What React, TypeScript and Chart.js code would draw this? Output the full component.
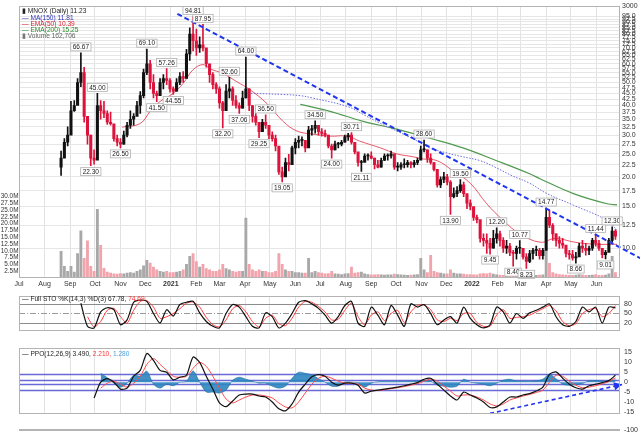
import React, { useEffect, useRef } from "react";
import { Chart, registerables } from "chart.js";

Chart.register(...registerables);

const FONT = "'Liberation Sans', Arial, sans-serif";

// ---------- time axis: days since 2020-07-01 ----------
const monthTickDays = [0, 31, 62, 92, 123, 153, 184, 215, 243, 274, 304, 335, 365, 396, 427, 457, 488, 518, 549, 580, 608, 639, 669, 700];
const monthTickLabels = ["Jul", "Aug", "Sep", "Oct", "Nov", "Dec", "2021", "Feb", "Mar", "Apr", "May", "Jun", "Jul", "Aug", "Sep", "Oct", "Nov", "Dec", "2022", "Feb", "Mar", "Apr", "May", "Jun"];
const yearTickLabels = ["2021", "2022"];
const X_MIN_DAY = 0;
const X_MAX_DAY = 728.5;

// ---------- price (sampled every 4 calendar days from 2020-08-21) ----------
const PRICE_START_DAY = 51;
const PRICE_STEP_DAYS = 4;
const firstOpen = 22;
const priceHigh = [
  25.7, 29, 32.5, 41.6, 42, 52, 66.67, 58, 34, 30,
  26, 45, 42, 41.6, 38, 37.5, 32.5, 30, 29, 31.2,
  34, 38, 37, 41.6, 45.8, 57, 69.1, 62, 54, 46,
  52, 54, 57.26, 52, 48, 52, 55, 55.6, 69, 85,
  94.81, 84, 78, 87.95, 69, 59, 55, 50, 48, 41.6,
  49, 52.6, 48, 44, 41, 46, 64, 47, 40, 37,
  34, 35, 36.5, 33, 31, 30, 26, 22, 24, 24.9,
  27, 29, 29.7, 29.5, 28.5, 32.7, 33, 34.5, 33, 32,
  31.5, 30, 27.5, 28.3, 28, 28.5, 30, 30.5, 30.71, 28,
  24.5, 23.5, 25, 25, 25.5, 24, 23.5, 24, 25, 25,
  25.7, 24, 23, 23, 23.8, 23.5, 23.2, 23.5, 24, 27,
  28.6, 26, 25, 23, 20.6, 20, 20.9, 20.5, 19.3, 18,
  18.2, 19.5, 19, 16.5, 16, 14.7, 13.8, 13.1, 11.5, 11.5,
  11, 11.9, 12.2, 11.8, 11.1, 10.8, 10.5, 9.8, 10.2, 10.77,
  10, 9.5, 9.8, 10, 10.2, 10, 10, 14.77, 14.5, 12.7,
  11.5, 11.2, 11, 10.2, 9.8, 9.8, 9.6, 10.5, 10.8, 10.5,
  10.2, 11, 11.44, 10.8, 10, 9.8, 11, 12.3, 12,
];
const priceLow = [
  20.3, 26.5, 27, 32.5, 37.8, 40.5, 48, 34, 27.5, 22.3,
  22.6, 31, 35, 35.5, 33.3, 33, 28.3, 27, 26.5, 27.5,
  29.5, 32, 33, 36.6, 37, 43, 54, 47, 43, 41.5,
  45, 47, 49, 45.5, 44.55, 46, 49, 50, 55, 62,
  68, 65, 67, 68, 58, 50, 47, 45, 39, 32.2,
  38, 43, 40, 39, 37.06, 39, 43, 38, 34, 33,
  29.25, 31, 32, 29, 28.3, 25.7, 20.5, 19.05, 20.5, 21.2,
  23.5, 25, 26.5, 27, 25.5, 29.7, 30, 30.6, 30, 29.7,
  29.5, 26.5, 24, 26, 26.5, 27, 28, 28.5, 27.5, 25,
  22.2, 21.11, 23.4, 23.5, 23.8, 21.6, 21.8, 22, 23.4, 23.5,
  24, 21.5, 21.2, 21.5, 21.8, 22, 21.8, 22, 22.5, 24,
  25.5, 23, 22.6, 21.2, 18.1, 18, 18.9, 18.5, 13.9, 16.3,
  16.5, 17.2, 16.5, 14.7, 14.5, 13.1, 12.8, 10.6, 10.2, 9.5,
  9.45, 10, 10.5, 10.2, 9.6, 9.5, 9.3, 8.4, 9, 9.5,
  9, 8.23, 8.7, 9, 9.3, 9, 9, 10, 12.2, 10.8,
  10.2, 10, 10, 9.2, 9, 8.9, 8.66, 9.3, 9.6, 9.35,
  9.4, 9.8, 10.2, 9.8, 9.1, 9.01, 9.8, 10.6, 10.9,
];
const priceClose = [
  24, 28, 30, 38, 40, 50, 55, 36, 30, 24,
  23.5, 40, 38, 37, 34, 33.5, 29, 28, 27.5, 30,
  33, 35, 36, 40, 44, 55, 60, 50, 45, 44,
  50, 52, 51, 47, 46, 50, 53, 52, 66, 80,
  75, 70, 72, 70, 60, 54, 49, 47, 41, 38,
  46, 47, 42, 40, 39, 43, 47, 40, 36, 34,
  31, 34, 33, 30, 29, 27, 21, 20, 23, 22.5,
  26.5, 28, 28.5, 28.5, 26.5, 31.5, 32, 33, 31, 30.5,
  30, 27, 26, 27.5, 27.5, 28, 29.5, 30, 28, 25.5,
  23, 23, 24.5, 24.5, 24, 22.5, 22, 23.5, 24.5, 24.5,
  25, 22, 22, 22.5, 22.5, 23, 22.5, 23, 23.5, 26,
  26, 24, 23, 21.5, 18.5, 19.5, 20, 19, 16.5, 17,
  17.5, 18.5, 17, 15.5, 15, 13.5, 13.2, 11, 10.8, 10.5,
  10, 11, 11.5, 10.8, 10, 10.2, 9.6, 9.5, 10, 10,
  9.2, 8.8, 9.5, 9.8, 9.8, 9.3, 9.8, 13.5, 12.5, 11.5,
  10.8, 10.5, 10.3, 9.5, 9.4, 9.1, 9.2, 10.2, 10, 9.8,
  10, 10.8, 10.5, 10, 9.4, 9.6, 10.8, 11.8, 11.23,
];
const volumeM = [
  9.8, 4.3, 2.5, 4.3, 2.2, 9.0, 17.4, 7.2, 13.7, 4.3,
  2.5, 25.3, 12.0, 3.6, 2.2, 1.8, 1.5, 1.4, 1.6, 1.5,
  1.8, 2.0, 1.8, 2.5, 3.0, 4.5, 6.5, 5.5, 4.0, 3.0,
  2.5, 2.2, 2.5, 2.0, 2.0, 2.2, 2.5, 3.0, 5.0, 8.0,
  9.0, 6.0, 4.0, 5.0, 3.5, 3.0, 2.5, 2.5, 3.0, 5.0,
  3.5, 3.0, 2.5, 2.2, 2.5, 2.5, 22.0, 5.0, 3.0, 2.5,
  3.0, 2.5, 2.5, 2.0, 2.0, 2.5, 9.0, 5.0, 3.0, 2.5,
  2.5, 2.0, 2.0, 1.8, 1.8, 7.2, 2.0, 2.5, 2.0, 1.8,
  1.5, 1.6, 2.5, 1.5, 1.4, 1.3, 1.5, 1.6, 4.0, 1.8,
  2.0, 2.2, 1.5, 1.3, 1.2, 1.2, 1.3, 1.2, 1.1, 1.2,
  1.2, 1.4, 1.3, 1.2, 1.1, 1.0, 1.1, 1.2, 1.3, 7.2,
  3.0, 2.0, 8.3, 2.5, 2.0, 1.8, 1.5, 1.5, 3.0, 1.8,
  1.5, 1.5, 1.4, 1.3, 1.3, 1.2, 1.2, 1.5, 1.6, 1.5,
  1.8, 1.4, 1.2, 1.1, 1.0, 1.0, 1.1, 1.5, 1.2, 1.1,
  1.0, 1.4, 1.2, 1.0, 1.0, 1.1, 1.2, 10.0, 5.4, 2.0,
  1.5, 1.3, 1.2, 1.1, 1.0, 1.0, 1.1, 1.3, 1.2, 1.0,
  1.0, 1.1, 1.3, 1.0, 1.0, 1.1, 1.5, 8.0, 2.0,
];
const highLabelIdx = [6, 11, 26, 32, 40, 43, 51, 56, 62, 77, 88, 110, 121, 132, 139, 147, 162, 167];
const lowLabelIdx = [9, 18, 29, 34, 49, 54, 60, 67, 82, 91, 118, 130, 137, 141, 156, 165];

// moving averages
const ema50Days = [125, 147, 159, 171, 187, 199, 211, 223, 232, 247, 264, 280, 301, 320, 337, 356, 377, 398, 413, 438, 458, 478, 490, 507, 526, 547, 567, 587, 607, 632, 650, 674, 698, 725];
const ema50Vals = [32.4, 33.6, 37.8, 41.6, 45, 49.6, 56.6, 59.5, 57, 54.6, 50.4, 46.6, 40.6, 34.3, 31.2, 30.3, 29.7, 29.7, 28.3, 26.5, 25, 24.3, 23.8, 23.4, 21.2, 18.8, 15.4, 13.1, 11.5, 10.6, 11.0, 10.6, 10.4, 10.39];
const ma150Days = [270, 280, 320, 341, 356, 398, 417, 438, 458, 478, 498, 519, 538, 559, 579, 598, 619, 640, 672, 713, 725];
const ma150Vals = [45, 45, 44.5, 44, 43, 39.6, 36.7, 33.6, 31.2, 28.9, 26.5, 25.2, 24.3, 23.4, 21.8, 20.2, 18.8, 17, 15.2, 13.1, 11.9];
const ema200Days = [341, 377, 417, 458, 498, 538, 579, 619, 632, 672, 713, 725];
const ema200Vals = [40.4, 37.8, 34.3, 31.8, 29.1, 26.5, 23.4, 20.6, 19.6, 17, 15.4, 15.25];
const trendDays = [192, 753];
const trendPrices = [97.4, 9.08];

const priceTicks = [10, 12.5, 15, 17.5, 20, 22.5, 25, 27.5, 30, 32.5, 35, 37.5, 40, 42.5, 45, 47.5, 50, 52.5, 55, 57.5, 60, 62.5, 65, 67.5, 70, 72.5, 75, 77.5, 80, 82.5, 85, 87.5, 90, 92.5, 95];
const topPriceLabel = "3000";
const PRICE_AXIS_MIN = 7.49;
const PRICE_AXIS_MAX = 104.9;
const volumeTicksM = [2.5, 5, 7.5, 10, 12.5, 15, 17.5, 20, 22.5, 25, 27.5, 30];
const VOLUME_AXIS_MAX_M = 100;

// ---------- oscillators (sampled every 8 days from day 75) ----------
const OSC_START_DAY = 75;
const OSC_STEP_DAYS = 8;
const stoK = [
  82, 10, 5, 55, 68, 62, 15, 30, 85, 92,
  88, 50, 20, 62, 42, 78, 85, 88, 52, 25,
  10, 5, 50, 78, 70, 40, 10, 5, 52, 40,
  5, 20, 50, 85, 90, 80, 66, 45, 20, 40,
  75, 88, 20, 10, 70, 45, 15, 75, 45, 10,
  80, 70, 78, 50, 15, 30, 40, 20, 70, 35,
  15, 5, 15, 70, 55, 20, 50, 35, 52, 60,
  70, 80, 40, 15, 10, 25, 70, 55, 70, 20,
  70, 67.78,
];
const stoD = [
  null, 40, 8, 25, 60, 66, 40, 20, 60, 88,
  90, 70, 35, 40, 50, 65, 82, 86, 70, 38,
  15, 8, 30, 65, 75, 55, 25, 8, 35, 45,
  18, 12, 35, 70, 88, 85, 72, 55, 30, 32,
  60, 82, 40, 15, 45, 55, 28, 50, 60, 22,
  55, 75, 76, 62, 30, 25, 35, 28, 50, 50,
  22, 10, 10, 45, 62, 35, 38, 40, 45, 55,
  65, 75, 58, 25, 12, 18, 50, 62, 65, 40,
  50, 74.69,
];
const stoTicks = [20, 50, 80];
const ppoLine = [
  null, null, -8, 0, 1.8, 0, -3.5, -3, 3, 6,
  14.5, 11, 6, 5, 1.2, 2.5, 3.5, 12.7, 10, 3,
  -3.5, -10.5, -12.4, -9.5, -6.5, -6, -6, -7, -7.5, -10,
  -13.5, -14.5, -11, -5, -1, 2.7, 3.8, 3, 0, -1.5,
  -0.5, -0.5, -1.5, -5.5, -4.5, -4, -3.5, -3, -2.5, -1.8,
  -1, -0.2, 1.5, 2, -1, -4, -7, -9, -5, -6.5,
  -8, -10, -12.8, -12.5, -10, -7.5, -7.5, -6.5, -5.8, -4.5,
  -2.5, 4, 5.2, 2, -1, -2.8, -3.5, -1.8, -1, -0.2,
  0.8, 3.49,
];
const ppoSignal = [
  null, null, null, -3, -0.5, 0.5, -1, -2.5, -0.5, 3,
  9, 12, 9, 6, 3, 2.5, 3, 7, 10, 8,
  3, -3, -8.5, -10.5, -9, -7.5, -6.5, -6.5, -7, -8,
  -10.5, -12.5, -13, -10, -5.5, -1, 2, 3, 2, 0.5,
  -0.5, -0.5, -1, -3, -4, -4.2, -3.8, -3.3, -2.8, -2.2,
  -1.5, -0.8, 0.5, 1.5, 0.5, -2, -4.5, -7, -6.5, -6.5,
  -7.5, -9, -11, -12, -11, -9, -8, -7, -6.2, -5.2,
  -4, 0, 3.5, 3, 0.5, -1.5, -2.8, -2.5, -1.8, -0.8,
  0.3, 2.21,
];
const ppoHist = [
  null, null, null, 4.5, 2.3, -0.5, -2.5, -0.5, 3.5, 3,
  5.5, -1, -3, -1, -1.8, 0, 0.5, 5.7, 0, -5,
  -5, -5.5, -4, 1, 2.5, 1.5, 0.5, -0.5, -0.5, -2,
  -3, -2, 2, 5, 4.5, 3.7, 1.8, 0, -2, -2,
  0, 0, -0.5, -2.5, -0.5, 0.2, 0.3, 0.3, 0.3, 0.4,
  0.5, 0.6, 1, 0.5, -1.5, -2, -2.5, -2, 1.5, 0,
  -0.5, -1, -1.8, -0.5, 1, 1.5, 0.5, 0.5, 0.4, 0.7,
  1.5, 4, 1.7, -1, -1.5, -1.3, -0.7, 0.7, 0.8, 0.6,
  0.5, 1.28,
];
const ppoTicks = [-15, -10, -5, 0, 5, 10, 15];
const ppoBandLevels = [4, 1, -1, -4];
const ppoTrendDays = [571, 731];
const ppoTrendVals = [-15.8, -1.2];
const kstTicks = [-100];

// ---------- helpers ----------
const priceDays = priceHigh.map((_, i) => PRICE_START_DAY + i * PRICE_STEP_DAYS);
const oscDays = stoK.map((_, j) => OSC_START_DAY + j * OSC_STEP_DAYS);
const pts = (xs: number[], ys: (number | null)[]) => xs.map((x, i) => ({ x, y: ys[i] }));

function xScale(showLabels: boolean) {
  return {
    type: "linear",
    min: X_MIN_DAY,
    max: X_MAX_DAY,
    offset: false,
    afterBuildTicks: (s: any) => {
      s.ticks = monthTickDays.map((v) => ({ value: v }));
    },
    afterFit: (s: any) => {
      s.height = showLabels ? 12 : 0;
    },
    grid: { color: "#e2e2e2", drawTicks: false, offset: false },
    border: { display: false },
    ticks: {
      display: showLabels,
      autoSkip: false,
      maxRotation: 0,
      padding: 2,
      color: "#333",
      font: (ctx: any) => {
        const k = ctx.tick ? monthTickDays.indexOf(ctx.tick.value) : -1;
        const bold = k >= 0 && yearTickLabels.includes(monthTickLabels[k]);
        return { family: FONT, size: 7, weight: bold ? "bold" : "normal" };
      },
      callback: (v: any) => {
        const k = monthTickDays.indexOf(v);
        return k >= 0 ? monthTickLabels[k] : "";
      },
    },
  };
}

function rightAxis(min: number, max: number, ticks: number[], fmt: (v: number) => string) {
  return {
    type: "linear",
    position: "right",
    min,
    max,
    afterBuildTicks: (s: any) => {
      s.ticks = ticks.map((v) => ({ value: v }));
    },
    afterFit: (s: any) => {
      s.width = 20;
    },
    grid: { display: false, drawTicks: false },
    border: { display: false },
    ticks: { autoSkip: false, padding: 4, color: "#333", font: { family: FONT, size: 7 }, callback: (v: any) => fmt(Number(v)) },
  };
}

const framePlugin = {
  id: "panelFrame",
  afterDraw(chart: any) {
    const { ctx, chartArea: a } = chart;
    ctx.save();
    ctx.strokeStyle = "#b4b4b4";
    ctx.lineWidth = 1;
    ctx.strokeRect(Math.round(a.left) + 0.5, Math.round(a.top) + 0.5, Math.round(a.right - a.left) - 1, Math.round(a.bottom - a.top) - 1);
    ctx.restore();
  },
};

type Seg = [string, string];
function legendPlugin(lines: { dy: number; segs: Seg[] }[]) {
  return {
    id: "panelLegend",
    afterDraw(chart: any) {
      const { ctx, chartArea } = chart;
      ctx.save();
      ctx.font = `6.6px ${FONT}`;
      ctx.textBaseline = "middle";
      ctx.textAlign = "left";
      lines.forEach((line) => {
        let x = chartArea.left + 3;
        const y = chartArea.top + line.dy;
        line.segs.forEach(([t, c]) => {
          ctx.fillStyle = c;
          ctx.fillText(t, x, y);
          x += ctx.measureText(t).width;
        });
      });
      ctx.restore();
    },
  };
}

function levelPlugin(axisId: string, levels: { v: number; color: string; width: number; dash: number[] }[]) {
  return {
    id: "levels",
    beforeDatasetsDraw(chart: any) {
      const { ctx, chartArea: a } = chart;
      const ys = chart.scales[axisId];
      ctx.save();
      levels.forEach((l) => {
        const y = Math.round(ys.getPixelForValue(l.v)) + 0.5;
        ctx.strokeStyle = l.color;
        ctx.lineWidth = l.width;
        ctx.setLineDash(l.dash);
        ctx.beginPath();
        ctx.moveTo(a.left, y);
        ctx.lineTo(a.right, y);
        ctx.stroke();
      });
      ctx.restore();
    },
  };
}

const valueLabelPlugin = {
  id: "valueLabels",
  afterDatasetsDraw(chart: any) {
    const { ctx } = chart;
    const xs = chart.scales.x;
    const ys = chart.scales.yPrice;
    ctx.save();
    ctx.font = `6.5px ${FONT}`;
    ctx.textAlign = "center";
    ctx.textBaseline = "middle";
    const draw = (idx: number, above: boolean) => {
      const v = above ? priceHigh[idx] : priceLow[idx];
      const text = v.toFixed(2);
      const px = xs.getPixelForValue(priceDays[idx]);
      const py = ys.getPixelForValue(v);
      const w = ctx.measureText(text).width + 4;
      const h = 8;
      const top = above ? py - h - 2 : py + 2;
      ctx.fillStyle = "rgba(255,255,255,0.92)";
      ctx.fillRect(px - w / 2, top, w, h);
      ctx.strokeStyle = "#b0b0b0";
      ctx.lineWidth = 0.8;
      ctx.strokeRect(px - w / 2, top, w, h);
      ctx.fillStyle = "#222";
      ctx.fillText(text, px, top + h / 2 + 0.5);
    };
    highLabelIdx.forEach((i) => draw(i, true));
    lowLabelIdx.forEach((i) => draw(i, false));
    ctx.restore();
  },
};

const arrowPlugin = {
  id: "arrowHead",
  afterDatasetsDraw(chart: any) {
    const idx = chart.data.datasets.findIndex((d: any) => d.label === "ppoTrend");
    if (idx < 0) return;
    const p = chart.getDatasetMeta(idx).data;
    const a = p[p.length - 2];
    const b = p[p.length - 1];
    const ang = Math.atan2(b.y - a.y, b.x - a.x);
    const { ctx } = chart;
    ctx.save();
    ctx.fillStyle = "#2233ee";
    ctx.beginPath();
    ctx.moveTo(b.x, b.y);
    ctx.lineTo(b.x - 8 * Math.cos(ang) + 4 * Math.sin(ang), b.y - 8 * Math.sin(ang) - 4 * Math.cos(ang));
    ctx.lineTo(b.x - 8 * Math.cos(ang) - 4 * Math.sin(ang), b.y - 8 * Math.sin(ang) + 4 * Math.cos(ang));
    ctx.closePath();
    ctx.fill();
    ctx.restore();
  },
};

const UP_CANDLE = "#111111";
const DOWN_CANDLE = "#dc143c";
const UP_VOL = "#a8a8a8";
const DOWN_VOL = "#f2a3ab";

function buildPriceChart(canvas: HTMLCanvasElement) {
  const opens = priceClose.map((_, i) => (i === 0 ? firstOpen : priceClose[i - 1]));
  const up = priceClose.map((c, i) => c >= opens[i]);
  return new Chart(canvas, {
    type: "bar",
    data: {
      datasets: [
        {
          type: "line",
          label: "trend",
          yAxisID: "yPrice",
          data: pts(trendDays, trendPrices),
          borderColor: "#1f35f0",
          borderWidth: 2,
          borderDash: [5, 3],
          pointRadius: 0,
          clip: false,
          order: 0,
        },
        {
          type: "bar",
          label: "bodies",
          yAxisID: "yPrice",
          data: priceDays.map((d, i) => ({ x: d, y: [Math.min(opens[i], priceClose[i]), Math.max(opens[i], priceClose[i])] })),
          backgroundColor: up.map((u) => (u ? UP_CANDLE : DOWN_CANDLE)),
          barThickness: 2.4,
          minBarLength: 1,
          grouped: false,
          order: 1,
        },
        {
          type: "bar",
          label: "wicks",
          yAxisID: "yPrice",
          data: priceDays.map((d, i) => ({ x: d, y: [priceLow[i], priceHigh[i]] })),
          backgroundColor: up.map((u) => (u ? UP_CANDLE : DOWN_CANDLE)),
          barThickness: 1,
          grouped: false,
          order: 2,
        },
        {
          type: "line",
          label: "EMA(50)",
          yAxisID: "yPrice",
          data: pts(ema50Days, ema50Vals),
          borderColor: "rgba(226,60,80,0.85)",
          borderWidth: 1,
          pointRadius: 0,
          tension: 0.4,
          order: 3,
        },
        {
          type: "line",
          label: "MA(150)",
          yAxisID: "yPrice",
          data: pts(ma150Days, ma150Vals),
          borderColor: "#6a6ae0",
          borderWidth: 1,
          borderDash: [1.5, 1.5],
          pointRadius: 0,
          tension: 0.4,
          order: 4,
        },
        {
          type: "line",
          label: "EMA(200)",
          yAxisID: "yPrice",
          data: pts(ema200Days, ema200Vals),
          borderColor: "#4f9a4f",
          borderWidth: 1.2,
          pointRadius: 0,
          tension: 0.4,
          order: 5,
        },
        {
          type: "bar",
          label: "Volume",
          yAxisID: "yVol",
          data: priceDays.map((d, i) => ({ x: d, y: volumeM[i] * 1e6 })),
          backgroundColor: up.map((u) => (u ? UP_VOL : DOWN_VOL)),
          barThickness: 2.2,
          grouped: false,
          order: 10,
        },
      ],
    } as any,
    options: {
      responsive: false,
      animation: false,
      events: [],
      layout: { padding: { top: 4, left: 0, right: 0, bottom: 0 } },
      plugins: { legend: { display: false }, tooltip: { enabled: false } },
      scales: {
        x: xScale(true),
        yPrice: {
          type: "logarithmic",
          position: "right",
          min: PRICE_AXIS_MIN,
          max: PRICE_AXIS_MAX,
          afterBuildTicks: (s: any) => {
            s.ticks = [...priceTicks.map((v) => ({ value: v })), { value: PRICE_AXIS_MAX }];
          },
          afterFit: (s: any) => {
            s.width = 20;
          },
          grid: { color: "#e6e6e6", drawTicks: false },
          border: { display: false },
          ticks: {
            autoSkip: false,
            padding: 2,
            color: "#333",
            font: { family: FONT, size: 7 },
            callback: (v: any) => (Number(v) >= PRICE_AXIS_MAX - 0.001 ? topPriceLabel : Number(v).toFixed(1)),
          },
        },
        yVol: {
          type: "linear",
          position: "left",
          min: 0,
          max: VOLUME_AXIS_MAX_M * 1e6,
          afterBuildTicks: (s: any) => {
            s.ticks = volumeTicksM.map((v) => ({ value: v * 1e6 }));
          },
          afterFit: (s: any) => {
            s.width = 19;
          },
          grid: { display: false, drawTicks: false },
          border: { display: false },
          ticks: { autoSkip: false, padding: 0.5, color: "#333", font: { family: FONT, size: 6.4 }, callback: (v: any) => (Number(v) / 1e6).toFixed(1) + "M" },
        },
      },
    } as any,
    plugins: [
      framePlugin,
      valueLabelPlugin,
      legendPlugin([
        { dy: 5, segs: [["▮ ", "#222"], ["MNOX (Daily) 11.23", "#222"]] },
        { dy: 11.5, segs: [["— ", "#3333bb"], ["MA(150) 11.81", "#3333bb"]] },
        { dy: 17.5, segs: [["— ", "#dd2233"], ["EMA(50) 10.39", "#dd2233"]] },
        { dy: 23.5, segs: [["— ", "#2a8a2a"], ["EMA(200) 15.25", "#2a8a2a"]] },
        { dy: 29.5, segs: [["▮ ", "#777"], ["Volume 162,706", "#666"]] },
      ]),
    ] as any,
  });
}

function baseLowerOptions(yCfg: any) {
  return {
    responsive: false,
    animation: false,
    events: [],
    layout: { padding: { top: 1, left: 19, right: 0, bottom: 0 } },
    plugins: { legend: { display: false }, tooltip: { enabled: false } },
    scales: { x: xScale(false), y: yCfg },
  } as any;
}

function buildStoChart(canvas: HTMLCanvasElement) {
  return new Chart(canvas, {
    type: "line",
    data: {
      datasets: [
        { label: "%K", data: pts(oscDays, stoK), borderColor: "#111", borderWidth: 1.2, pointRadius: 0, tension: 0.25 },
        { label: "%D", data: pts(oscDays, stoD), borderColor: "#ff3b3b", borderWidth: 1, pointRadius: 0, tension: 0.25 },
      ],
    } as any,
    options: baseLowerOptions(rightAxis(-4, 104, stoTicks, (v) => String(v))),
    plugins: [
      levelPlugin("y", [
        { v: 80, color: "#8c8c8c", width: 1, dash: [] },
        { v: 20, color: "#8c8c8c", width: 1, dash: [] },
        { v: 50, color: "#9a9a9a", width: 1, dash: [6, 2, 1, 2] },
      ]),
      framePlugin,
      legendPlugin([{ dy: 3, segs: [["— ", "#111"], ["Full STO %K(14,3) %D(3) 67.78, ", "#222"], ["74.69", "#ff3030"]] }]),
    ] as any,
  });
}

function buildPpoChart(canvas: HTMLCanvasElement) {
  return new Chart(canvas, {
    type: "line",
    data: {
      datasets: [
        { label: "ppoTrend", data: pts(ppoTrendDays, ppoTrendVals), borderColor: "#2233ee", borderWidth: 1.6, borderDash: [4, 3], pointRadius: 0, clip: false, order: 0 },
        { label: "PPO", data: pts(oscDays, ppoLine), borderColor: "#111", borderWidth: 1.2, pointRadius: 0, tension: 0.25, order: 1 },
        { label: "Signal", data: pts(oscDays, ppoSignal), borderColor: "#ff4a4a", borderWidth: 1, pointRadius: 0, tension: 0.3, order: 2 },
        {
          label: "Histogram",
          data: pts(oscDays, ppoHist),
          borderColor: "#1f6fa5",
          borderWidth: 0.6,
          backgroundColor: "rgba(47,134,192,0.9)",
          fill: "origin",
          pointRadius: 0,
          tension: 0.3,
          order: 3,
        },
      ],
    } as any,
    options: baseLowerOptions(rightAxis(-16, 17.2, ppoTicks, (v) => String(v))),
    plugins: [
      levelPlugin(
        "y",
        ppoBandLevels.map((v) => ({ v, color: "#6a6ad6", width: 1.4, dash: [] }))
      ),
      framePlugin,
      arrowPlugin,
      legendPlugin([{ dy: 5.5, segs: [["— ", "#111"], ["PPO(12,26,9) 3.490, ", "#222"], ["2.210, ", "#ff3030"], ["1.280", "#4aa3df"]] }]),
    ] as any,
  });
}

function buildKstChart(canvas: HTMLCanvasElement) {
  return new Chart(canvas, {
    type: "line",
    data: { datasets: [] },
    options: baseLowerOptions(rightAxis(-164, -60, kstTicks, (v) => String(v))),
    plugins: [framePlugin, legendPlugin([{ dy: 5, segs: [["— ", "#111"], ["KST -238.52, ", "#222"], ["-358.80", "#ff3030"]] }])] as any,
  });
}

export default function App() {
  const priceRef = useRef<HTMLCanvasElement>(null);
  const stoRef = useRef<HTMLCanvasElement>(null);
  const ppoRef = useRef<HTMLCanvasElement>(null);
  const kstRef = useRef<HTMLCanvasElement>(null);

  useEffect(() => {
    const charts = [
      buildPriceChart(priceRef.current!),
      buildStoChart(stoRef.current!),
      buildPpoChart(ppoRef.current!),
      buildKstChart(kstRef.current!),
    ];
    return () => charts.forEach((c) => c.destroy());
  }, []);

  const abs = (top: number): React.CSSProperties => ({ position: "absolute", left: 0, top, display: "block" });

  return (
    <div style={{ position: "absolute", left: 0, top: 0, width: 640, height: 432, overflow: "hidden", background: "#fff" }}>
      <canvas ref={priceRef} width={640} height={290} style={abs(0)} />
      <canvas ref={stoRef} width={640} height={51} style={abs(288)} />
      <canvas ref={ppoRef} width={640} height={82} style={abs(340)} />
      <canvas ref={kstRef} width={640} height={14} style={abs(422)} />
    </div>
  );
}
